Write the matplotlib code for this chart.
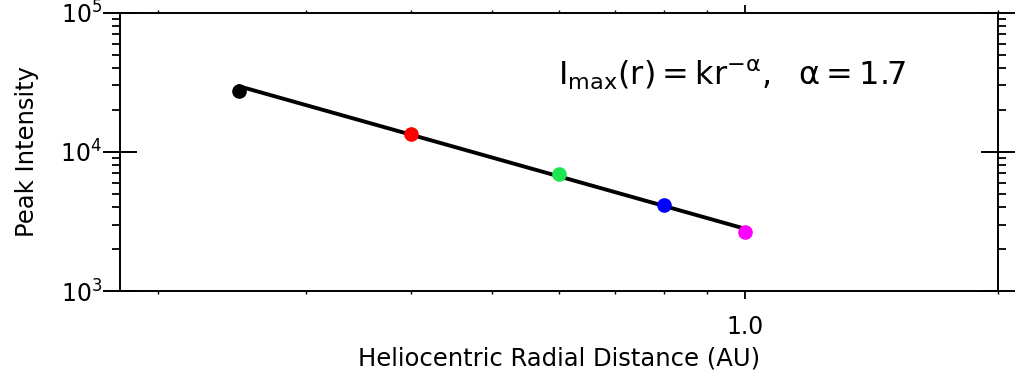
import numpy as np
import matplotlib
matplotlib.use("Agg")
import matplotlib.pyplot as plt
from matplotlib.ticker import FixedLocator, NullFormatter, FixedFormatter

# peak intensity of the event at each spacecraft distance
r_au = [0.25, 0.4, 0.6, 0.8, 1.0]
peak = [27400, 13400, 6900, 4130, 2670]
colors = ['black', 'red', '#1ee650', 'blue', 'magenta']

# power law fit  I = k r^-alpha
k = 2800.0
alpha = 1.7
r_fit = np.array([0.25, 1.0])

x_major = [1.0]
x_minor = [0.2, 0.3, 0.4, 0.5, 0.6, 0.7, 0.8, 0.9, 2.0]
y_major = [1e3, 1e4, 1e5]
y_labels = [r'$10^{3}$', r'$10^{4}$', r'$10^{5}$']

fig = plt.figure(figsize=(10.19, 3.71), dpi=100)
ax = fig.add_axes([0.1173, 0.2156, 0.8621, 0.7502])
ax.set_xscale('log')
ax.set_yscale('log')

ax.plot(r_fit, k * r_fit ** (-alpha), color='black', lw=2.8, zorder=2)
for x, y, c in zip(r_au, peak, colors):
    ax.plot(x, y, 'o', color=c, ms=9.5, mec=c, zorder=3)

ax.set_xlim(0.18, 2.0)
ax.set_ylim(1e3, 1e5)

ax.xaxis.set_major_locator(FixedLocator(x_major))
ax.xaxis.set_major_formatter(FixedFormatter(['1.0']))
ax.xaxis.set_minor_locator(FixedLocator(x_minor))
ax.xaxis.set_minor_formatter(NullFormatter())
ax.yaxis.set_major_locator(FixedLocator(y_major))
ax.yaxis.set_major_formatter(FixedFormatter(y_labels))
ax.yaxis.set_minor_locator(FixedLocator(
    [m * d for d in (1e3, 1e4) for m in range(2, 10)]))
ax.yaxis.set_minor_formatter(NullFormatter())

ax.tick_params(axis='x', which='major', direction='out', length=5.5, width=1.3,
               top=True, labelsize=17, pad=12)
ax.tick_params(axis='x', which='minor', direction='out', length=2.5, width=1.0,
               top=True)
ax.tick_params(axis='y', which='major', direction='inout', length=25, width=1.4,
               right=True, labelsize=17, pad=0)
ax.tick_params(axis='y', which='minor', direction='out', length=6, width=1.3,
               right=True)
for s in ax.spines.values():
    s.set_linewidth(1.4)

ax.set_xlabel('Heliocentric Radial Distance (AU)', fontsize=17.5, labelpad=5)
ax.set_ylabel('Peak Intensity', fontsize=17.5, labelpad=15)

ax.text(0.499, 0.776,
        r'$\mathregular{I_{max}(r)=kr^{-\alpha},\ \ \alpha=1.7}$',
        transform=ax.transAxes, fontsize=23, ha='left', va='center')

fig.savefig('out.png', dpi=100)
